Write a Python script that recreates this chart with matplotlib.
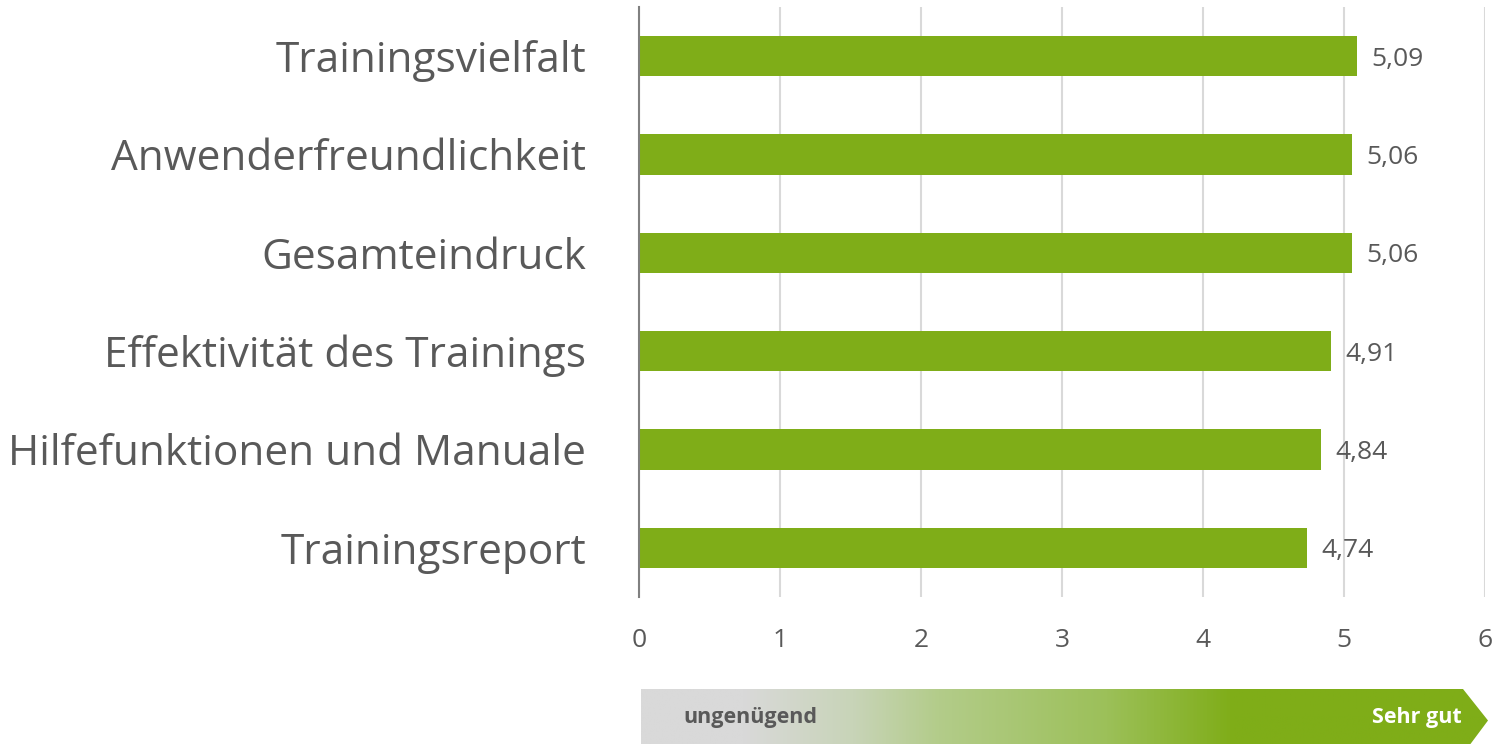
import numpy as np
import matplotlib
matplotlib.use("Agg")
import matplotlib.pyplot as plt
from matplotlib.patches import Polygon
from matplotlib.colors import LinearSegmentedColormap

plt.rcParams['font.family'] = ['Open Sans', 'DejaVu Sans']

categories = ["Trainingsvielfalt", "Anwenderfreundlichkeit", "Gesamteindruck",
              "Effektivität des Trainings", "Hilfefunktionen und Manuale", "Trainingsreport"]
values = [5.09, 5.06, 5.06, 4.91, 4.84, 4.74]
xticks = [0, 1, 2, 3, 4, 5, 6]

green = "#7fad18"
grey_txt = "#595959"

fig = plt.figure(figsize=(14.97, 7.44), dpi=100)
ax = fig.add_axes([0.4269, 0.1976, 0.5651, 0.793])

y = np.arange(len(categories))
ax.barh(y, values, height=0.41, color=green, zorder=3)
ax.set_ylim(len(categories) - 0.5, -0.5)
ax.set_xlim(0, 6)
ax.set_xticks(xticks)
ax.set_xticklabels([str(t) for t in xticks], fontsize=19, color=grey_txt)
ax.set_yticks(y)
ax.set_yticklabels(categories, fontsize=30.5, color=grey_txt)
ax.tick_params(axis='y', length=0, pad=38)
ax.tick_params(axis='x', length=0, pad=22)
ax.grid(axis='x', color="#d9d9d9", linewidth=1.5, zorder=0)
for s in ["top", "right", "bottom"]:
    ax.spines[s].set_visible(False)
ax.spines["left"].set_color("#808080")
ax.spines["left"].set_linewidth(1.5)
ax.spines["left"].set_zorder(4)

for yi, v in zip(y, values):
    ax.text(v + 0.1, yi + 0.03, f"{v:.2f}".replace(".", ","), va="center", ha="left",
            fontsize=19, color=grey_txt)

# gradient arrow legend below the axis
W, H = 1497, 744
gax = fig.add_axes([0, 0, 1, 1], zorder=-1)
gax.set_xlim(0, W)
gax.set_ylim(H, 0)
gax.axis("off")
cmap = LinearSegmentedColormap.from_list("scale", [
    (0.0, "#d9d9d9"), (0.12, "#d9d9d9"), (0.25, "#c8d4b8"), (0.35, "#b3cc8a"),
    (0.55, "#9cc059"), (0.7, green), (1.0, green)])
grad = np.linspace(0, 1, 512).reshape(1, -1)
x0, x1, xt, y0, y1 = 641, 1463, 1488, 689, 744
img = gax.imshow(grad, cmap=cmap, extent=[x0, xt, y1, y0], aspect="auto")
poly = Polygon([[x0, y0], [x1, y0], [xt, (y0 + y1) / 2 + 4], [x1, y1 + 10], [x0, y1 + 10]],
               closed=True, transform=gax.transData, facecolor="none", edgecolor="none")
gax.add_patch(poly)
img.set_clip_path(poly)
gax.text(683, 717, "ungenügend", fontsize=15.5, fontweight="bold", color=grey_txt,
         ha="left", va="center")
gax.text(1462, 717, "Sehr gut", fontsize=15.5, fontweight="bold", color="white",
         ha="right", va="center")

fig.savefig("out.png", dpi=100)
